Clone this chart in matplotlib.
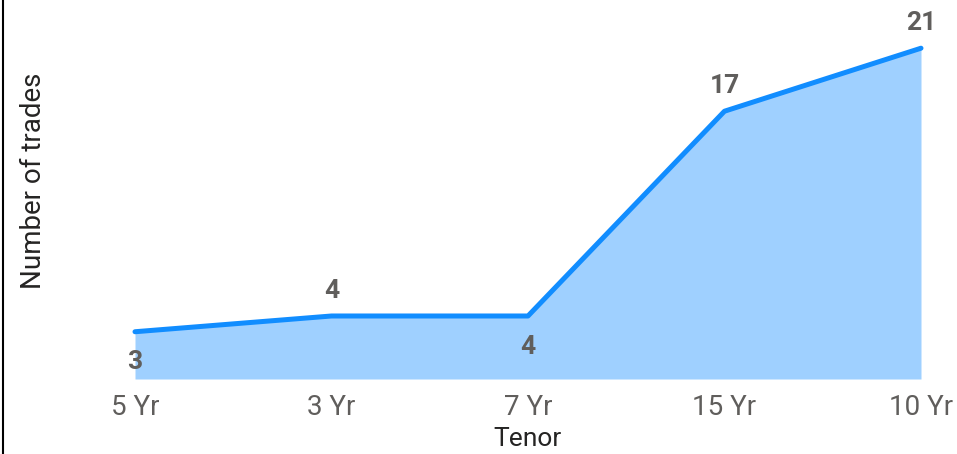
import numpy as np
import matplotlib.pyplot as plt
from matplotlib.lines import Line2D

# data
tenors = ['5 Yr', '3 Yr', '7 Yr', '15 Yr', '10 Yr']
trades = [3, 4, 4, 17, 21]
label_above = [False, True, False, True, True]

plt.rcParams['font.family'] = ['Roboto', 'DejaVu Sans']

fig = plt.figure(figsize=(9.57, 4.54), dpi=100)
ax = fig.add_axes([135 / 957, 75 / 454, (921 - 135) / 957, 379 / 454])

x = np.arange(len(tenors))
ax.fill_between(x, trades, 0, color='#9FD0FF', linewidth=0)
ax.plot(x, trades, color='#118DFF', lw=3.6, solid_capstyle='round',
        solid_joinstyle='round', clip_on=False)

for xi, v, up in zip(x, trades, label_above):
    off = 18 if up else -22
    ax.annotate(str(v), (xi, v), xytext=(0, off), textcoords='offset points',
                ha='center', va='center', fontsize=19,
                fontweight='bold', color='#605E5C')

ax.set_xlim(0, 4)
ax.set_ylim(0, 24.06)
ax.set_xticks(x)
ax.set_xticklabels(tenors, fontsize=20, color='#605E5C')
ax.set_yticks([])
ax.tick_params(axis='x', length=0, pad=11)
for s in ax.spines.values():
    s.set_visible(False)

ax.set_xlabel('Tenor', fontsize=19, color='#252423', labelpad=4)
fig.text(34 / 957, 1 - 181 / 454, 'Number of trades', rotation=90,
         ha='center', va='center', fontsize=20, color='#252423')

# left border line
fig.add_artist(Line2D([3 / 957, 3 / 957], [0, 1], color='black', lw=1.5))

fig.savefig('out.png', dpi=100)
